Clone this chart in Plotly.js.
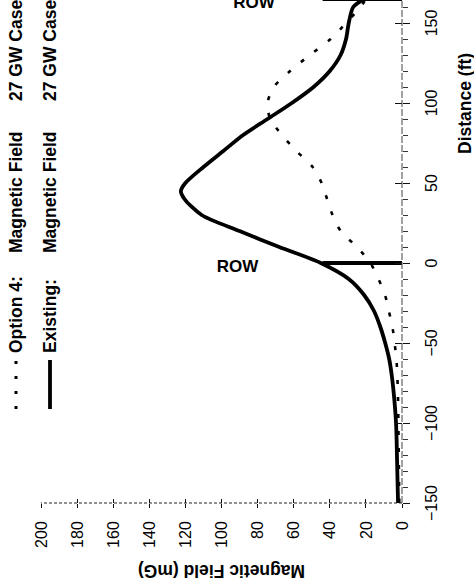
<!DOCTYPE html>
<html><head><meta charset="utf-8">
<script src="https://cdn.plot.ly/plotly-3.0.1.min.js"></script>
<style>
html,body{margin:0;padding:0;background:#fff;overflow:hidden;width:474px;height:581px;}
#chart{position:absolute;left:0;top:0;width:584px;height:474px;transform-origin:0 0;transform:translate(0px,581px) rotate(-90deg);}
</style></head><body><div id="chart"></div>
<script>
// ---- data ----
const distance = [-150,-140,-130,-120,-110,-100,-90,-80,-70,-60,-50,-40,-30,-20,-10,0,10,20,30,40,45,50,60,70,80,90,100,110,120,130,140,150,160,165];
const existingField = [2.2,2.4,2.6,2.8,3.0,3.3,3.9,4.7,5.7,7.1,9.3,12,15.5,21,29.5,45,68,90,111,120.5,122.5,120,110,99,88,74.5,61,49,40,34,31,29.5,27,21];
const option4Field = [1.5,1.6,1.7,1.8,1.9,2.0,2.1,2.3,2.6,3.1,4.1,5.3,7.3,9.4,13,17.5,25,34,38.5,41.5,43,44.5,49.5,58.5,66.5,73,74.5,71,62,51,39.5,31,23,20];
const rowDistance = [0, 165];
const rowField = [44, 44];
const rowLabelField = [90.6, 81.4];
const legendNames = ['Option 4:', 'Existing:'];
const legendCols = ['Magnetic Field', '27 GW Case'];
const xTitle = 'Distance (ft)';
const yTitle = 'Magnetic Field (mG)';

// ---- layout geometry (unrotated frame; the page rotates it 90° counter-clockwise) ----
const W = 584, H = 474, L = 78, R = 0, T = 41, B = 72;
const pw = W - L - R, ph = H - T - B;
const px = X => (X - L) / pw;
const py = Y => (H - B - Y) / ph;
const FONT = 'Liberation Sans, Arial, Helvetica, sans-serif';

const rowX = [], rowY = [];
rowDistance.forEach((d, i) => { rowX.push(d, d, null); rowY.push(0, rowField[i], null); });

const traces = [
  {x: distance, y: option4Field, type: 'scatter', mode: 'lines', name: legendNames[0],
   line: {color: '#000', width: 2.6, dash: '4px,13px', shape: 'spline', smoothing: 0.8}, hoverinfo: 'skip'},
  {x: distance, y: existingField, type: 'scatter', mode: 'lines', name: legendNames[1],
   line: {color: '#000', width: 3.8, shape: 'spline', smoothing: 0.8}, hoverinfo: 'skip'},
  {x: rowX, y: rowY, type: 'scatter', mode: 'lines', name: 'ROW',
   line: {color: '#000', width: 3.8}, hoverinfo: 'skip'},
  {x: [], y: [], xaxis: 'x2', yaxis: 'y2', type: 'scatter', mode: 'lines', hoverinfo: 'skip'}
];

const tickFont = {family: FONT, size: 16, color: '#000'};
const xr = [-150, -150 + pw / 1.6], yr = [0, 200];

const annotations = [];
rowDistance.forEach((d, i) => annotations.push({
  x: d - 2, y: rowLabelField[i], xref: 'x', yref: 'y', text: 'ROW', showarrow: false,
  textangle: 90, font: {family: FONT, size: 17, weight: 700, color: '#000'}
}));
annotations.push({x: px(477), y: py(465), xref: 'paper', yref: 'paper', text: xTitle, showarrow: false,
  xanchor: 'center', yanchor: 'middle', font: {family: FONT, size: 17.5, weight: 700, color: '#000'}});
const legendRowsY = [16, 50];
const legendTextX = [226, 326, 478];
legendRowsY.forEach((Y, r) => {
  [legendNames[r], legendCols[0], legendCols[1]].forEach((t, c) => annotations.push({
    x: px(legendTextX[c]), y: py(Y), xref: 'paper', yref: 'paper', text: t, showarrow: false,
    xanchor: 'left', yanchor: 'middle', font: {family: FONT, size: 17.5, weight: 700, color: '#000'}
  }));
});

const shapes = [
  {type: 'line', xref: 'paper', yref: 'paper', x0: 0, x1: 0, y0: 0, y1: 1,
   line: {color: '#222', width: 1, dash: '3px,2px'}},
  {type: 'line', xref: 'paper', yref: 'paper', x0: 0, x1: 1, y0: 0, y1: 0,
   line: {color: '#444', width: 1, dash: '7px,2px'}},
  {type: 'line', xref: 'paper', yref: 'paper', x0: px(172), x1: px(221), y0: py(legendRowsY[0]), y1: py(legendRowsY[0]),
   line: {color: '#000', width: 3, dash: '3px,12px'}},
  {type: 'line', xref: 'paper', yref: 'paper', x0: px(172), x1: px(221), y0: py(legendRowsY[1]), y1: py(legendRowsY[1]),
   line: {color: '#000', width: 3.8}}
];

const layout = {
  width: W, height: H, autosize: false,
  margin: {l: L, r: R, t: T, b: B, pad: 0},
  paper_bgcolor: '#fff', plot_bgcolor: '#fff',
  showlegend: false,
  font: {family: FONT, color: '#000'},
  xaxis: {range: xr, tick0: -150, dtick: 50, ticks: 'outside', ticklen: 7, tickwidth: 1, tickcolor: '#111',
          showline: false, zeroline: false, showgrid: false, tickfont: tickFont, ticklabelstandoff: 8,
          automargin: false,
          minor: {tick0: 0, dtick: 10, ticks: 'outside', ticklen: 5, tickwidth: 1, tickcolor: '#333', showgrid: false}},
  xaxis2: {range: xr, overlaying: 'x', anchor: 'y', side: 'bottom', tick0: -150, dtick: 50, ticks: 'inside', ticklen: 7,
           tickwidth: 1, tickcolor: '#111', showticklabels: false, showline: false, zeroline: false, showgrid: false},
  yaxis: {range: yr, tick0: 0, dtick: 20, ticks: 'outside', ticklen: 4, tickwidth: 1, tickcolor: '#111',
          showline: false, zeroline: false, showgrid: false, tickfont: tickFont, ticklabelstandoff: 10,
          automargin: false,
          title: {text: yTitle, standoff: 12, font: {family: FONT, size: 17.5, weight: 700, color: '#000'}}},
  yaxis2: {range: yr, overlaying: 'y', anchor: 'x', side: 'left', tick0: 0, dtick: 20, ticks: 'inside', ticklen: 4,
           tickwidth: 1, tickcolor: '#111', showticklabels: false, showline: false, zeroline: false, showgrid: false},
  annotations: annotations,
  shapes: shapes
};

Plotly.newPlot('chart', traces, layout, {staticPlot: true, displayModeBar: false});
</script></body></html>
